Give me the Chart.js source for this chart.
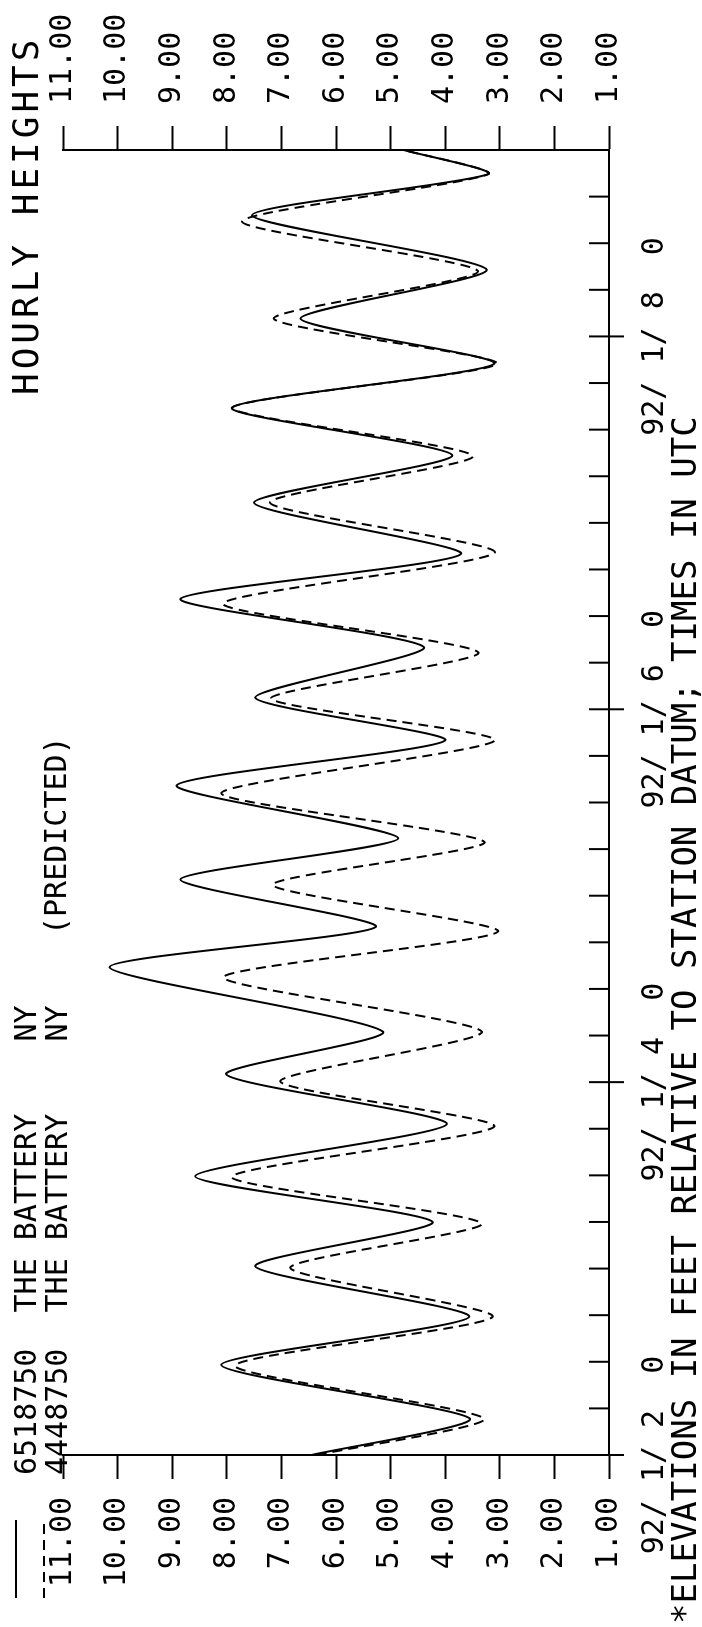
<!DOCTYPE html>
<html>
<head>
<meta charset="utf-8">
<script src="https://cdn.jsdelivr.net/npm/chart.js@4.4.1/dist/chart.umd.min.js"></script>
<style>
html,body{margin:0;padding:0;background:#fff;width:702px;height:1627px;overflow:hidden;}
#wrap{position:absolute;left:0;top:0;width:1627px;height:702px;transform-origin:0 0;transform:translateY(1627px) rotate(-90deg);background:#fff;}
canvas{display:block;}
</style>
</head>
<body>
<div id="wrap"><canvas id="c" width="1627" height="702" style="width:1627px;height:702px"></canvas></div>
<script>
// ---- data (hours since 92/1/2 00 UTC, feet) ----
const seriesNames = ['6518750  THE BATTERY    NY', '4448750  THE BATTERY    NY'];
const solidHours  = [0, 4.7, 11.6, 17.8, 24.3, 30.0, 35.9, 42.6, 49.0, 54.5, 62.8, 68.0, 74.1, 79.4, 86.2, 92.0, 97.5, 104.0, 110.2, 116.0, 122.6, 128.7, 134.8, 140.5, 146.3, 152.6, 159.6, 164.9, 168];
const solidValues = [6.45, 3.55, 8.10, 3.56, 7.48, 4.23, 8.58, 3.97, 8.01, 5.14, 10.15, 5.27, 8.85, 4.86, 8.92, 4.00, 7.48, 4.39, 8.85, 3.71, 7.50, 3.87, 7.91, 3.10, 6.65, 3.24, 7.54, 3.21, 4.76];
const dashedHours  = [0, 4.7, 11.5, 17.8, 24.1, 29.8, 35.8, 42.3, 48.1, 54.5, 61.5, 67.4, 73.4, 78.9, 85.2, 92.0, 97.4, 103.3, 109.6, 116.2, 122.6, 128.6, 134.8, 140.5, 146.3, 152.4, 158.8, 164.9, 168];
const dashedValues = [6.35, 3.29, 7.85, 3.13, 6.84, 3.33, 7.91, 3.10, 7.02, 3.33, 8.06, 3.03, 7.16, 3.28, 8.10, 3.09, 7.19, 3.39, 8.07, 3.09, 7.21, 3.49, 7.90, 3.05, 7.14, 3.40, 7.72, 3.21, 4.76];

const elevationTicks = [1, 2, 3, 4, 5, 6, 7, 8, 9, 10, 11];
const dayTickHours   = [0, 48, 96, 144];
const dayTickLabels  = ['92/ 1/ 2  0', '92/ 1/ 4  0', '92/ 1/ 6  0', '92/ 1/ 8  0'];
const minorTickHours = [0, 6, 12, 18, 24, 30, 36, 42, 48, 54, 60, 66, 72, 78, 84, 90, 96, 102, 108, 114, 120, 126, 132, 138, 144, 150, 156, 162, 168];

const titleText    = 'HOURLY HEIGHTS';
const subtitleText = '(PREDICTED)';
const footerText   = '*ELEVATIONS IN FEET RELATIVE TO STATION DATUM; TIMES IN UTC';

const FONT = 'DejaVu Sans Mono';

const annot = {
  id: 'annot',
  afterDraw(chart) {
    const c = chart.ctx, xs = chart.scales.x, a = chart.chartArea;
    c.save();
    c.strokeStyle = '#000';
    c.lineWidth = 2;
    // inward time ticks, day marks crossing the axis
    minorTickHours.forEach(h => {
      const p = xs.getPixelForValue(h);
      const ext = dayTickHours.includes(h) ? 15 : 0;
      c.beginPath();
      c.moveTo(p, a.bottom - 20);
      c.lineTo(p, a.bottom + ext);
      c.stroke();
    });
    // legend samples
    const ds = chart.data.datasets;
    [16, 44].forEach((yy, i) => {
      c.setLineDash(ds[i].borderDash || []);
      c.beginPath();
      c.moveTo(29, yy);
      c.lineTo(107, yy);
      c.stroke();
    });
    c.setLineDash([]);
    // texts
    c.fillStyle = '#000';
    c.textBaseline = 'middle';
    c.textAlign = 'left';
    c.font = '30px "' + FONT + '"';
    c.fillText(ds[0].label, 152, 28);
    c.fillText(ds[1].label, 152, 59);
    c.fillText(subtitleText, 692, 58);
    c.font = '36px "' + FONT + '"';
    if ('letterSpacing' in c) c.letterSpacing = '4px';
    c.fillText(titleText, 1232, 29);
    if ('letterSpacing' in c) c.letterSpacing = '0px';
    c.font = '34px "' + FONT + '"';
    c.fillText(footerText, 3, 687);
    c.restore();
  }
};

const yAxis = (pos, pad, width) => ({
  type: 'linear',
  position: pos,
  min: 1,
  max: 11,
  afterBuildTicks: s => { s.ticks = elevationTicks.map(v => ({ value: v })); },
  afterFit: s => { s.width = width; },
  grid: { display: true, drawOnChartArea: false, drawTicks: true, tickLength: 24, tickWidth: 2, tickColor: '#000' },
  border: { display: true, color: '#000', width: 2 },
  ticks: { padding: pad, color: '#000', font: { family: FONT, size: 30 }, callback: v => Number(v).toFixed(2) }
});

new Chart(document.getElementById('c'), {
  type: 'line',
  data: {
    datasets: [
      { label: seriesNames[0], data: solidHours.map((h, i) => ({ x: h, y: solidValues[i] })),
        borderColor: '#000', borderWidth: 2, pointRadius: 0, fill: false, tension: 0.22, yAxisID: 'y' },
      { label: seriesNames[1], data: dashedHours.map((h, i) => ({ x: h, y: dashedValues[i] })),
        borderColor: '#000', borderWidth: 2, borderDash: [10, 6], pointRadius: 0, fill: false, tension: 0.22, yAxisID: 'y' }
    ]
  },
  options: {
    responsive: false,
    animation: false,
    devicePixelRatio: 1,
    layout: { padding: { left: 0, right: 0, top: 63, bottom: 0 } },
    plugins: { legend: { display: false }, title: { display: false }, tooltip: { enabled: false } },
    scales: {
      x: {
        type: 'linear', position: 'bottom', min: 0, max: 168,
        afterBuildTicks: s => { s.ticks = dayTickHours.map(v => ({ value: v })); },
        afterFit: s => { s.height = 93; },
        grid: { display: false, drawTicks: false },
        border: { display: true, color: '#000', width: 2 },
        ticks: { autoSkip: false, maxRotation: 0, minRotation: 0, padding: 28, color: '#000',
          font: { family: FONT, size: 30 },
          callback: v => { const i = dayTickHours.indexOf(v); return i >= 0 ? dayTickLabels[i] : ''; } }
      },
      y: yAxis('left', 18, 172),
      y2: yAxis('right', 22, 150)
    }
  },
  plugins: [annot]
});
</script>
</body>
</html>
